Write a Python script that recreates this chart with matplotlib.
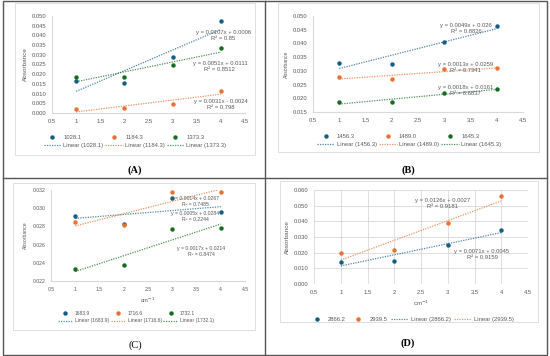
import numpy as np
import matplotlib
matplotlib.use('Agg')
import matplotlib.pyplot as plt
from matplotlib.patches import Rectangle
from matplotlib.lines import Line2D
from matplotlib.ticker import FormatStrFormatter, MultipleLocator

plt.rcParams['font.family'] = ['Liberation Sans', 'DejaVu Sans']

# x positions shared by every series
x = [1, 2, 3, 4]

# panel A
names_a = ['1028.1', '1184.3', '1373.3']
vals_a = [[0.0165, 0.0155, 0.0290, 0.0475],
          [0.0020, 0.0025, 0.0045, 0.0115],
          [0.0185, 0.0185, 0.0245, 0.0335]]
eq_a = ['y = 0.0107x + 0.0006\nR² = 0.85',
        'y = 0.0031x - 0.0024\nR² = 0.798',
        'y = 0.0051x + 0.0111\nR² = 0.8512']
eq_pos_a = [(4.05, 0.0400), (4.0, 0.0042), (3.98, 0.0242)]

# panel B
names_b = ['1456.3', '1489.0', '1645.3']
vals_b = [[0.0330, 0.0325, 0.0405, 0.0465],
          [0.0277, 0.0270, 0.0305, 0.0310],
          [0.0185, 0.0185, 0.0220, 0.0233]]
eq_b = ['y = 0.0049x + 0.026\nR² = 0.8826',
        'y = 0.0013x + 0.0259\nR² = 0.7341',
        'y = 0.0018x + 0.0161\nR² = 0.6837']
eq_pos_b = [(3.42, 0.0455), (3.40, 0.0311), (3.40, 0.0230)]

# panel C
names_c = ['1683.9', '1716.6', '1732.1']
vals_c = [[0.0291, 0.0283, 0.0311, 0.0296],
          [0.0285, 0.0282, 0.0318, 0.0318],
          [0.0233, 0.0238, 0.0277, 0.0278]]
eq_c = ['y = 0.0005x + 0.0284\nR² = 0.2244',
        'y = 0.0014x + 0.0267\nR² = 0.7485',
        'y = 0.0017x + 0.0214\nR² = 0.8474']
eq_pos_c = [(3.47, 0.0291), (3.47, 0.03075), (3.6, 0.02525)]

# panel D
names_d = ['2866.2', '2939.5']
vals_d = [[0.0142, 0.0150, 0.0250, 0.0345],
          [0.0198, 0.0218, 0.0390, 0.0560]]
eq_d = ['y = 0.0071x + 0.0045\nR² = 0.9159',
        'y = 0.0126x + 0.0027\nR² = 0.9181']
eq_pos_d = [(3.64, 0.0188), (2.91, 0.0513)]

colors = ['#156082', '#e97132', '#196b24']
grey = '#595959'
light = '#d9d9d9'

W, H = 550, 356
fig = plt.figure(figsize=(W / 100, H / 100), dpi=100)


def add_ax(x0, x1, y0, y1):
  return fig.add_axes([x0 / W, 1 - y1 / H, (x1 - x0) / W, (y1 - y0) / H])


def box(x0, x1, y0, y1, color, lw):
  fig.add_artist(Rectangle((x0 / W, 1 - y1 / H), (x1 - x0) / W, (y1 - y0) / H,
                           transform=fig.transFigure, fill=False, ec=color, lw=lw))


def panel(ax, names, vals, eqs, eq_pos, ylim, ystep, fs, grid=False):
  '''
  draws one scatter panel with dotted linear trendlines
  '''
  pts, lines = [], []
  for i, (name, y) in enumerate(zip(names, vals)):
    p, = ax.plot(x, y, 'o', color=colors[i], ms=3.2, mec='none', label=name, zorder=3)
    k, b = np.polyfit(x, y, 1)
    xs = np.array([x[0], x[-1]])
    l, = ax.plot(xs, k * xs + b, color=colors[i], lw=0.9, ls=(0, (1, 1)),
                 alpha=0.75, label=f'Linear ({name})', zorder=2)
    pts.append(p)
    lines.append(l)
    ax.text(eq_pos[i][0], eq_pos[i][1], eqs[i], ha='center', va='center',
            fontsize=fs, color=grey, linespacing=1.25, zorder=4)
  ax.set_xlim(0.5, 4.5)
  ax.set_ylim(*ylim)
  ax.xaxis.set_major_locator(MultipleLocator(0.5))
  ax.yaxis.set_major_locator(MultipleLocator(ystep))
  ax.xaxis.set_major_formatter(FormatStrFormatter('%g'))
  ax.yaxis.set_major_formatter(FormatStrFormatter('%.3f'))
  ax.tick_params(length=0, labelsize=fs, colors=grey, pad=4)
  for s in ['top', 'right']:
    ax.spines[s].set_visible(False)
  for s in ['left', 'bottom']:
    ax.spines[s].set_color(light)
    ax.spines[s].set_linewidth(0.8)
  if grid:
    ax.grid(True, color=light, lw=0.6)
    ax.set_axisbelow(True)
    for s in ['left', 'bottom']:
      ax.spines[s].set_visible(False)
  return pts, lines


def legend(ax, handles, ncol, cx, cy, fs, colsp=0.6):
  ax.legend(handles=handles, ncol=ncol, loc='center',
            bbox_to_anchor=(cx / W, 1 - cy / H), bbox_transform=fig.transFigure,
            frameon=False, fontsize=fs, handlelength=3.0, handletextpad=0.4,
            columnspacing=colsp, labelspacing=0.5, labelcolor=grey)


# frames round the four panels
box(3, 547, 1, 355, '#555555', 1.0)
fig.add_artist(Line2D([265 / W, 265 / W], [1 - 1 / H, 1 - 355 / H],
                      transform=fig.transFigure, color='#555555', lw=1.0))
fig.add_artist(Line2D([3 / W, 547 / W], [1 - 178 / H, 1 - 178 / H],
                      transform=fig.transFigure, color='#555555', lw=1.0))

# chart area boxes
box(15, 255, 3, 155, light, 0.6)
box(278, 539, 3, 152, light, 0.6)
box(13, 255, 183, 330, light, 0.6)
box(280, 538, 181, 322, light, 0.6)

# (A)
ax = add_ax(52, 245, 16, 113)
pts, lines = panel(ax, names_a, vals_a, eq_a, eq_pos_a, (0, 0.05), 0.005, 4.2)
ax.set_ylabel('Absorbance', fontsize=4.6, color=grey, labelpad=3)
legend(ax, [pts[0], lines[0], pts[1], lines[1], pts[2], lines[2]], 3, 135, 141, 4.2, 0.3)
fig.text(135 / W, 1 - 170 / H, '(A)', ha='center', va='center',
         family='Liberation Serif', fontweight='bold', fontsize=7.5)

# (B)
ax = add_ax(313, 523, 16, 112)
pts, lines = panel(ax, names_b, vals_b, eq_b, eq_pos_b, (0.015, 0.05), 0.005, 4.2)
ax.set_ylabel('Absorbance', fontsize=3.6, color=grey, labelpad=3)
legend(ax, [pts[0], lines[0], pts[1], lines[1], pts[2], lines[2]], 3, 409, 140, 4.2, 0.4)
fig.text(408 / W, 1 - 170 / H, '(B)', ha='center', va='center',
         family='Liberation Serif', fontweight='bold', fontsize=7.5)

# (C)
ax = add_ax(51, 245, 190, 281)
pts, lines = panel(ax, names_c, vals_c, eq_c, eq_pos_c, (0.022, 0.032), 0.002, 3.7)
ax.set_ylabel('Absorbance', fontsize=3.7, color=grey, labelpad=3)
ax.set_xlabel('cm$^{-1}$', fontsize=4.2, color=grey, labelpad=3)
legend(ax, [pts[0], lines[0], pts[1], lines[1], pts[2], lines[2]], 3, 136, 317, 3.6, 0.3)
fig.text(135 / W, 1 - 345 / H, '(C)', ha='center', va='center',
         family='Liberation Serif', fontsize=7.5)

# (D)
ax = add_ax(314, 528, 190, 284)
pts, lines = panel(ax, names_d, vals_d, eq_d, eq_pos_d, (0, 0.06), 0.01, 4.2, grid=True)
ax.set_ylabel('Absorbance', fontsize=4.6, color=grey, labelpad=3)
ax.set_xlabel('cm$^{-1}$', fontsize=4.4, color=grey, labelpad=3)
legend(ax, [pts[0], pts[1], lines[0], lines[1]], 4, 411, 319, 4.2)
fig.text(408 / W, 1 - 343 / H, '(D)', ha='center', va='center',
         family='Liberation Serif', fontweight='bold', fontsize=7.5)

fig.savefig('out.png', dpi=100)
